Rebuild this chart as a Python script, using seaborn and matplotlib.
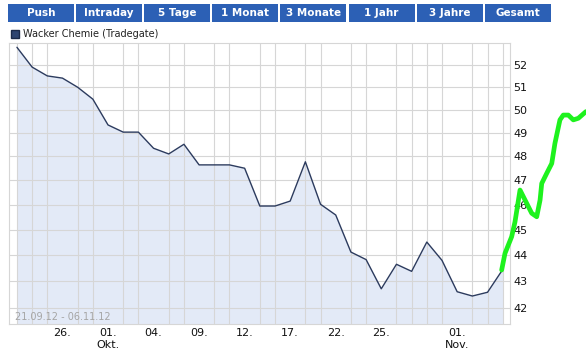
import matplotlib
matplotlib.use("Agg")
import numpy as np
import pandas as pd
import seaborn as sns
import matplotlib.pyplot as plt
from matplotlib.ticker import FixedLocator, NullLocator
from matplotlib.patches import Rectangle, Patch

# ---------------- data ----------------
dates = ["21.09", "24.09", "25.09", "26.09", "27.09", "28.09",
         "01.10", "02.10", "03.10", "04.10", "05.10",
         "08.10", "09.10", "10.10", "11.10", "12.10",
         "15.10", "16.10", "17.10", "18.10", "19.10",
         "22.10", "23.10", "24.10", "25.10", "26.10",
         "29.10", "30.10", "31.10", "01.11", "02.11",
         "05.11", "06.11"]
prices = [52.81, 51.90, 51.50, 51.40, 50.99, 50.46,
          49.33, 49.02, 49.02, 48.33, 48.09,
          48.50, 47.63, 47.63, 47.63, 47.49,
          45.94, 45.94, 46.14, 47.76, 46.01,
          45.58, 44.12, 43.83, 42.72, 43.65,
          43.38, 44.51, 43.80, 42.61, 42.45,
          42.59, 43.45]
tick_dates = ["26.09", "01.10", "04.10", "09.10", "12.10", "17.10", "22.10", "25.10", "01.11"]
tick_labels = ["26.", "01.\nOkt.", "04.", "09.", "12.", "17.", "22.", "25.", "01.\nNov."]
y_ticks = [42, 43, 44, 45, 46, 47, 48, 49, 50, 51, 52]
y_range = (41.42, 53.01)

# hand-drawn green projection (in trading-day positions / price units)
green_x = [31.93, 32.15, 32.59, 32.81, 33.14, 33.58, 33.91, 34.24, 34.46, 34.57,
           34.90, 35.23, 35.44, 35.77, 35.99, 36.32, 36.65, 36.98, 37.48]
green_y = [43.43, 44.07, 44.72, 45.31, 46.59, 46.05, 45.65, 45.51, 46.18, 46.86,
           47.28, 47.69, 48.54, 49.55, 49.76, 49.76, 49.55, 49.62, 49.91]

buttons = ["Push", "Intraday", "5 Tage", "1 Monat", "3 Monate", "1 Jahr", "3 Jahre", "Gesamt"]
series_name = "Wacker Chemie (Tradegate)"
range_text = "21.09.12 - 06.11.12"

# ---------------- styling ----------------
sns.set_theme(style="white")
plt.rcParams["font.family"] = ["DejaVu Sans"]

W, H = 586, 359
fig = plt.figure(figsize=(W / 100, H / 100), dpi=100)
fig.patch.set_facecolor("white")

L, R, T, B = 9.5, 510, 43, 324
ax = fig.add_axes([L / W, 1 - B / H, (R - L) / W, (B - T) / H])
ax.set_facecolor("white")

df = pd.DataFrame({"pos": np.arange(len(dates)), "date": dates, "price": prices})

ax.set_yscale("log")
ax.set_ylim(*y_range)
ax.set_xlim(-0.49, len(dates) - 1 + 0.48)

line_col = "#2C3B5E"
fill_col = "#E3EAF7"
grid_col = "#D6D6D6"

ax.fill_between(df["pos"], df["price"], y_range[0], color=fill_col, zorder=1, lw=0)
sns.lineplot(data=df, x="pos", y="price", ax=ax, color=line_col, lw=1.0, zorder=3)

# grid: every trading day vertically, each price unit horizontally
ax.xaxis.set_minor_locator(FixedLocator(df["pos"].tolist()))
tick_pos = [dates.index(d) for d in tick_dates]
ax.set_xticks(tick_pos)
ax.set_xticklabels(tick_labels, fontsize=8, color="#111111", linespacing=1.25)
ax.yaxis.set_major_locator(FixedLocator(y_ticks))
ax.yaxis.set_minor_locator(NullLocator())
ax.set_yticks(y_ticks)
ax.set_yticklabels([str(v) for v in y_ticks], fontsize=8, color="#111111")
ax.yaxis.tick_right()
ax.tick_params(axis="both", which="both", length=0)
ax.tick_params(axis="x", pad=3)
ax.tick_params(axis="y", pad=2.5)
ax.grid(False)
ax.grid(True, which="minor", axis="x", color=grid_col, lw=0.8, zorder=2)
ax.grid(True, which="major", axis="y", color=grid_col, lw=0.8, zorder=2)
ax.set_axisbelow(False)
for s in ax.spines.values():
    s.set_color(grid_col)
    s.set_linewidth(0.8)
ax.set_xlabel("")
ax.set_ylabel("")

# green hand-drawn projection
ax.plot(green_x, green_y, color="#1EF21E", lw=3.4, clip_on=False,
        solid_capstyle="round", solid_joinstyle="round", zorder=10)

# date range text inside plot
ax.text((15 - L) / (R - L), (B - 317) / (B - T), range_text, transform=ax.transAxes,
        fontsize=7, color="#A5A5A5", va="center", ha="left", zorder=5)

# legend
leg = ax.legend(handles=[Patch(facecolor="#2F4570", edgecolor="#1C2A48")],
                labels=[series_name], loc="center left",
                bbox_to_anchor=(10.5 / W, 1 - 34 / H), bbox_transform=fig.transFigure,
                frameon=False, fontsize=7, handlelength=0.85, handleheight=0.85,
                handletextpad=0.45, borderpad=0, borderaxespad=0)
for t in leg.get_texts():
    t.set_color("#222222")

# top button bar
btn_col = "#2C60B5"
x0, step, bw, by0, by1 = 8, 68.1, 66, 4, 22
for i, lab in enumerate(buttons):
    bx = x0 + i * step
    fig.patches.append(Rectangle((bx / W, 1 - by1 / H), bw / W, (by1 - by0) / H,
                                 transform=fig.transFigure, facecolor=btn_col,
                                 edgecolor="none", zorder=1))
    fig.text((bx + bw / 2) / W, 1 - (by0 + by1) / 2 / H, lab, color="white",
             fontsize=7.5, fontweight="bold", ha="center", va="center")

fig.savefig("out.png", dpi=100, facecolor="white")
